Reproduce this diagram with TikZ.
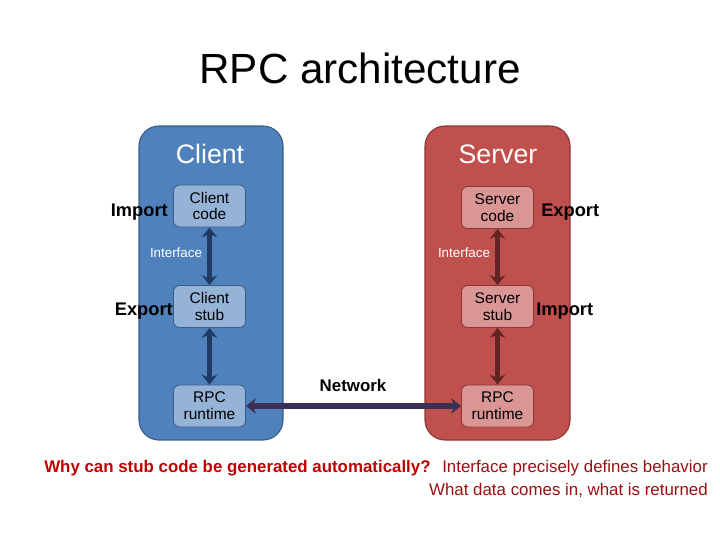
\documentclass[tikz,border=0pt]{standalone}
\usepackage{fontspec}
\setmainfont{Liberation Sans}
\usetikzlibrary{arrows.meta}
\definecolor{cfill}{HTML}{4F81BD}
\definecolor{cin}{HTML}{95B3D7}
\definecolor{cline}{HTML}{385D8A}
\definecolor{carrow}{HTML}{1F3B63}
\definecolor{sfill}{HTML}{C0504D}
\definecolor{sin}{HTML}{D99694}
\definecolor{sline}{HTML}{8C3836}
\definecolor{sarrow}{HTML}{632523}
\definecolor{narrow}{HTML}{3B2F55}
\definecolor{qred}{HTML}{C00000}
\definecolor{adark}{HTML}{9A1010}
\begin{document}
\begin{tikzpicture}[x=0.025cm,y=-0.025cm,
  panel/.style={draw=#1,line width=0.8pt,rounded corners=0.5cm},
  part/.style={draw=#1,line width=0.6pt,rounded corners=0.15cm,minimum width=1.8cm,
    minimum height=1.05cm,inner sep=0pt,align=center,font=\fontsize{11}{12}\selectfont},
  link/.style={line width=4pt,#1,{Stealth[length=7pt,width=11pt]}-{Stealth[length=7pt,width=11pt]}},
  side/.style={font=\bfseries\fontsize{13}{14}\selectfont},
  head/.style={white,font=\fontsize{19}{20}\selectfont},
  iface/.style={white,font=\fontsize{9.5}{10}\selectfont}]
\useasboundingbox (0,0) rectangle (720,540);
\node[font=\fontsize{30}{32}\selectfont] (title) at (360,68) {RPC architecture};
% panels
\fill[cfill,panel=cline] (139,126) rectangle (283,440);
\fill[sfill,panel=sline] (425,126) rectangle (570,440);
\node[head] (client) at (210,154) {Client};
\node[head] (server) at (498,154) {Server};
% client parts
\node[part=cline,fill=cin] (ccode) at (209.5,206) {Client\\code};
\node[part=cline,fill=cin] (cstub) at (209.5,306.5) {Client\\stub};
\node[part=cline,fill=cin] (crpc) at (209.5,406) {RPC\\runtime};
% server parts
\node[part=sline,fill=sin] (scode) at (497.5,207.5) {Server\\code};
\node[part=sline,fill=sin] (sstub) at (497.5,306.5) {Server\\stub};
\node[part=sline,fill=sin] (srpc) at (497.5,406) {RPC\\runtime};
% connectors
\draw[link=carrow] (ccode) -- (cstub);
\draw[link=carrow] (cstub) -- (crpc);
\draw[link=sarrow] (scode) -- (sstub);
\draw[link=sarrow] (sstub) -- (srpc);
\draw[link=narrow] (crpc) -- (srpc);
\node[iface] (ci) at (176,253) {Interface};
\node[iface] (si) at (464,253) {Interface};
\node[font=\bfseries\fontsize{12}{13}\selectfont] (net) at (353,385) {Network};
% side labels
\node[side,anchor=east,inner sep=0pt] (cimp) at (168,212) {Import};
\node[side,anchor=east,inner sep=0pt] (cexp) at (173,311) {Export};
\node[side,anchor=west,inner sep=0pt] (sexp) at (541,212) {Export};
\node[side,anchor=west,inner sep=0pt] (simp) at (536,311) {Import};
% bottom text
\node[qred,font=\bfseries\fontsize{12}{13}\selectfont,anchor=west,inner sep=0pt] (q) at (44,468) {Why can stub code be generated automatically?};
\node[adark,font=\fontsize{12}{13}\selectfont,anchor=east,inner sep=0pt] (a1) at (708,468) {Interface precisely defines behavior};
\node[adark,font=\fontsize{12}{13}\selectfont,anchor=east,inner sep=0pt] (a2) at (708,490) {What data comes in, what is returned};
\end{tikzpicture}
\end{document}
